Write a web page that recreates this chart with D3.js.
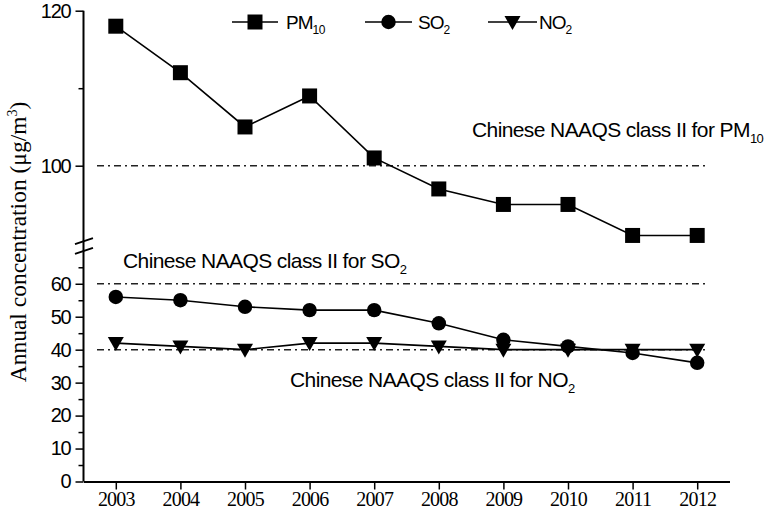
<!DOCTYPE html>
<html><head><meta charset="utf-8">
<script src="https://cdn.jsdelivr.net/npm/d3@7"></script>
<style>
body{margin:0;background:#fff;}
svg{display:block;}
</style></head>
<body>
<script>
const years = [2003,2004,2005,2006,2007,2008,2009,2010,2011,2012];
const pm10 = [118,112,105,109,101,97,95,95,91,91];
const so2  = [56,55,53,52,52,48,43,41,39,36];
const no2  = [42,41,40,42,42,41,40,40,40,40];
const standardPM10 = 100, standardSO2 = 60, standardNO2 = 40;
const lowerMajor = [0,10,20,30,40,50,60];
const lowerMinor = [5,15,25,35,45,55,65];
const upperMajor = [100,120];
const upperMinor = [110];

const W = 783, H = 511;
const svg = d3.select("body").append("svg").attr("width",W).attr("height",H);

const x = d3.scaleLinear().domain([2002.5,2012.5]).range([83.5,729.5]);
const yLow = d3.scaleLinear().domain([0,70]).range([481.5,250.8]);
const yUp = d3.scaleLinear().domain([90,120]).range([243.2,10.7]);

const sans = "'Liberation Sans', Arial, sans-serif";
const serif = "'Liberation Serif', 'Times New Roman', serif";

// reference (standard) lines
const dash = "7,4,2,4";
function refLine(yv){
  svg.append("line").attr("x1",97).attr("x2",705).attr("y1",yv).attr("y2",yv)
    .attr("stroke","#222").attr("stroke-width",1.5).attr("stroke-dasharray",dash);
}
refLine(yUp(standardPM10));
refLine(yLow(standardSO2));
refLine(yLow(standardNO2));

// axes
const axX = svg.append("g").attr("transform","translate(0,481.5)")
  .call(d3.axisBottom(x).tickValues(years).tickFormat(d3.format("d")).tickSize(8).tickPadding(3).tickSizeOuter(0));
axX.select(".domain").attr("stroke","#000").attr("stroke-width",2);
axX.selectAll(".tick line").attr("stroke","#000").attr("stroke-width",1.5);
axX.selectAll(".tick text").attr("font-family",serif).attr("font-size",20).attr("letter-spacing",-0.8)
  .attr("fill","#000").attr("dy","0.68em");

function yAxis(scale, major, minor){
  const gMaj = svg.append("g").attr("transform","translate(83.5,0)")
    .call(d3.axisLeft(scale).tickValues(major).tickSize(8).tickPadding(5));
  gMaj.select(".domain").remove();
  gMaj.selectAll(".tick line").attr("stroke","#000").attr("stroke-width",1.5);
  gMaj.selectAll(".tick text").attr("font-family",sans).attr("font-size",20).attr("letter-spacing",-1.2).attr("fill","#000");
  const gMin = svg.append("g").attr("transform","translate(83.5,0)")
    .call(d3.axisLeft(scale).tickValues(minor).tickSize(5).tickFormat(""));
  gMin.select(".domain").remove();
  gMin.selectAll(".tick line").attr("stroke","#000").attr("stroke-width",1.5);
}
yAxis(yLow, lowerMajor, lowerMinor);
yAxis(yUp, upperMajor, upperMinor);
svg.append("line").attr("x1",83.5).attr("x2",83.5).attr("y1",yUp(120)).attr("y2",481.5)
  .attr("stroke","#000").attr("stroke-width",2);
// axis break marks
[yUp.range()[0]-2, yLow.range()[1]].forEach(yc=>{
  svg.append("line").attr("x1",75).attr("x2",93).attr("y1",yc+3).attr("y2",yc-3)
    .attr("stroke","#000").attr("stroke-width",1.8);
});

// series
const symSquare = d3.symbol().type(d3.symbolSquare).size(225);
const symCircle = d3.symbol().type(d3.symbolCircle).size(165);
const triPath = "M-8,-6L8,-6L0,8Z";
function series(vals, scale, sym){
  const line = d3.line().x((d,i)=>x(years[i])).y(d=>scale(d));
  svg.append("path").datum(vals).attr("d",line).attr("fill","none").attr("stroke","#000").attr("stroke-width",1.6);
  svg.selectAll(null).data(vals).enter().append("path")
    .attr("transform",(d,i)=>`translate(${x(years[i])},${scale(d)})`)
    .attr("d", sym).attr("fill","#000");
}
series(pm10, yUp, symSquare);
series(so2, yLow, symCircle);
series(no2, yLow, ()=>triPath);

// legend
const legY = 22;
const legend = [
  {x1:232,x2:278,sym:symSquare(),label:"PM",sub:"10",tx:286},
  {x1:365,x2:412,sym:symCircle(),label:"SO",sub:"2",tx:418},
  {x1:488,x2:537,sym:triPath,label:"NO",sub:"2",tx:539}
];
legend.forEach(l=>{
  svg.append("line").attr("x1",l.x1).attr("x2",l.x2).attr("y1",legY).attr("y2",legY).attr("stroke","#000").attr("stroke-width",1.6);
  svg.append("path").attr("d",l.sym).attr("transform",`translate(${(l.x1+l.x2)/2},${legY})`).attr("fill","#000");
  const t = svg.append("text").attr("x",l.tx).attr("y",legY+6.5).attr("font-family",sans).attr("font-size",19)
    .attr("letter-spacing",-1).attr("fill","#000").text(l.label);
  t.append("tspan").attr("font-size",12).attr("dy",5).attr("letter-spacing",-0.5).text(l.sub);
});

// annotations
function note(xp, yp, label, sub){
  const t = svg.append("text").attr("x",xp).attr("y",yp).attr("font-family",sans).attr("font-size",21)
    .attr("letter-spacing",-0.6).attr("fill","#000").text(label);
  t.append("tspan").attr("font-size",13).attr("dy",6).text(sub);
}
note(472,137,"Chinese NAAQS class II for PM","10");
note(123,268,"Chinese NAAQS class II for SO","2");
note(290,387,"Chinese NAAQS class II for NO","2");

// y title
const yt = svg.append("text").attr("transform","translate(26,242) rotate(-90)").attr("text-anchor","middle")
  .attr("font-family",serif).attr("font-size",23.5).attr("fill","#000").text("Annual concentration (μg/m");
yt.append("tspan").attr("font-size",14).attr("dy",-9).text("3");
yt.append("tspan").attr("dy",9).text(")");
</script>
</body></html>
